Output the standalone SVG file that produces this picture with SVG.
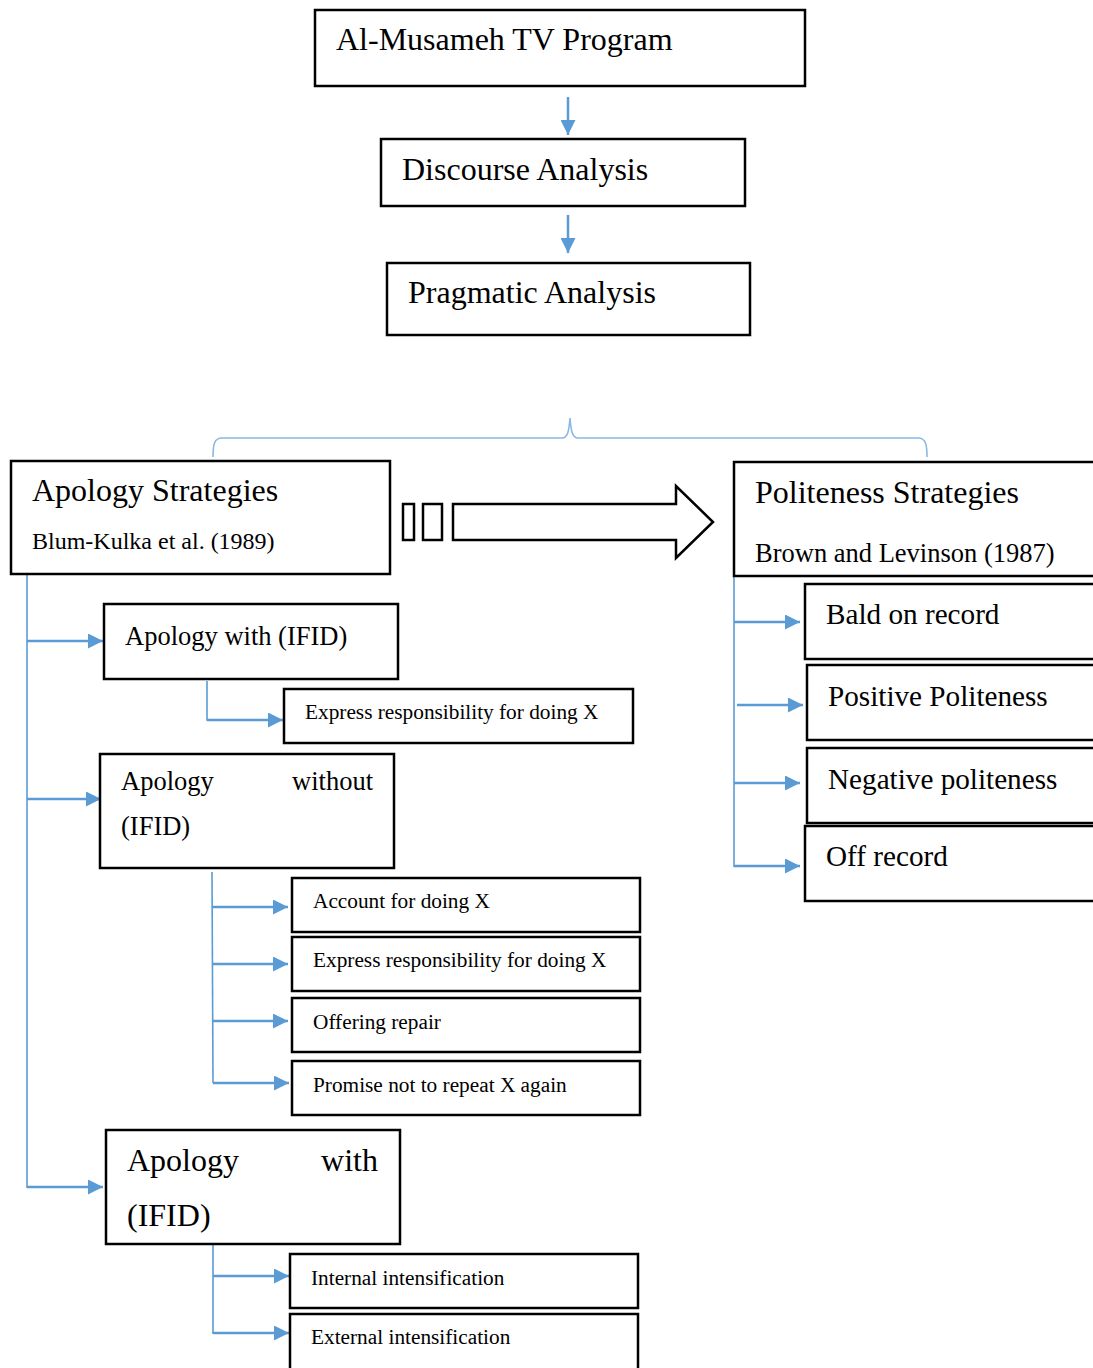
<svg xmlns="http://www.w3.org/2000/svg" width="1093" height="1368" viewBox="0 0 1093 1368">
<style>
.box{fill:#fff;stroke:#000;stroke-width:2.5}
.t{font-family:"Liberation Serif","Times New Roman",serif;fill:#000}
.t32{font-size:32px}.t29{font-size:29.2px}.t26{font-size:26.5px}.t24{font-size:24px}.t21{font-size:21.3px}
.ln{fill:none;stroke:#5B9BD5;stroke-width:1.6}
.ar{fill:none;stroke:#5B9BD5;stroke-width:2.5}
.br{fill:none;stroke:#8AB8E3;stroke-width:1.6}
</style>
<defs>
<marker id="ah" viewBox="0 0 10 10" refX="10" refY="5" markerWidth="15" markerHeight="15" markerUnits="userSpaceOnUse" orient="auto"><path d="M0,0 L10,5 L0,10 z" fill="#5B9BD5"/></marker>
</defs>
<rect width="1093" height="1368" fill="#fff"/>
<g id="connectors">
<line class="ar" x1="568" y1="97" x2="568" y2="135" marker-end="url(#ah)"/>
<line class="ar" x1="568" y1="215" x2="568" y2="253" marker-end="url(#ah)"/>
<path class="br" d="M213,457 C213,445 214,438 222,438 L562,438 C568,438 569,430 570,418 C571,430 572,438 578,438 L918,438 C926,438 927,445 927,457"/>
<line class="ln" x1="27" y1="575" x2="27" y2="1188"/>
<line class="ar" x1="27" y1="641" x2="103" y2="641" marker-end="url(#ah)"/>
<line class="ar" x1="27" y1="799" x2="101" y2="799" marker-end="url(#ah)"/>
<line class="ar" x1="27" y1="1187" x2="103" y2="1187" marker-end="url(#ah)"/>
<polyline class="ln" points="207,681 207,720 215,720"/>
<line class="ar" x1="207" y1="720" x2="283" y2="720" marker-end="url(#ah)"/>
<line class="ln" x1="212" y1="872" x2="213" y2="1083"/>
<line class="ar" x1="212" y1="907" x2="288" y2="907" marker-end="url(#ah)"/>
<line class="ar" x1="212" y1="964" x2="288" y2="964" marker-end="url(#ah)"/>
<line class="ar" x1="212" y1="1021" x2="288" y2="1021" marker-end="url(#ah)"/>
<line class="ar" x1="213" y1="1083" x2="289" y2="1083" marker-end="url(#ah)"/>
<line class="ln" x1="213" y1="1244" x2="213" y2="1334"/>
<line class="ar" x1="213" y1="1276" x2="289" y2="1276" marker-end="url(#ah)"/>
<line class="ar" x1="213" y1="1333" x2="289" y2="1333" marker-end="url(#ah)"/>
<line class="ln" x1="734" y1="576" x2="734" y2="867"/>
<line class="ar" x1="734" y1="622" x2="800" y2="622" marker-end="url(#ah)"/>
<line class="ar" x1="737" y1="705" x2="803" y2="705" marker-end="url(#ah)"/>
<line class="ar" x1="734" y1="783" x2="800" y2="783" marker-end="url(#ah)"/>
<line class="ar" x1="734" y1="866" x2="800" y2="866" marker-end="url(#ah)"/>
</g>
<g id="bigarrow">
<rect class="box" x="403" y="504" width="11" height="36"/>
<rect class="box" x="423" y="504" width="19" height="36"/>
<polygon class="box" points="453,504 676,504 676,486 713,522 676,558 676,540 453,540"/>
</g>
<g id="n-program"><rect class="box" x="315" y="10" width="490" height="76"/><text class="t t32" x="336" y="50">Al-Musameh TV Program</text></g>
<g id="n-discourse"><rect class="box" x="381" y="139" width="364" height="67"/><text class="t t32" x="402" y="180">Discourse Analysis</text></g>
<g id="n-pragmatic"><rect class="box" x="387" y="263" width="363" height="72"/><text class="t t32" x="408" y="303">Pragmatic Analysis</text></g>
<g id="n-apology"><rect class="box" x="11" y="461" width="379" height="113"/><text class="t t32" x="32" y="501">Apology Strategies</text><text class="t t24" x="32" y="549">Blum-Kulka et al. (1989)</text></g>
<g id="n-politeness"><rect class="box" x="734" y="462" width="380" height="114"/><text class="t t32" x="755" y="503">Politeness Strategies</text><text class="t t26" x="755" y="562">Brown and Levinson (1987)</text></g>
<g id="n-bald"><rect class="box" x="805" y="584" width="310" height="75"/><text class="t t29" x="826" y="624">Bald on record</text></g>
<g id="n-positive"><rect class="box" x="807" y="665" width="310" height="75"/><text class="t t29" x="828" y="706">Positive Politeness</text></g>
<g id="n-negative"><rect class="box" x="807" y="748" width="310" height="75"/><text class="t t29" x="828" y="789">Negative politeness</text></g>
<g id="n-off"><rect class="box" x="805" y="826" width="310" height="75"/><text class="t t29" x="826" y="866">Off record</text></g>
<g id="n-with1"><rect class="box" x="104" y="604" width="294" height="75"/><text class="t t26" x="125" y="645">Apology with (IFID)</text></g>
<g id="n-express1"><rect class="box" x="284" y="689" width="349" height="54"/><text class="t t21" x="305" y="719">Express responsibility for doing X</text></g>
<g id="n-without"><rect class="box" x="100" y="754" width="294" height="114"/><text class="t t26" x="121" y="790">Apology</text><text class="t t26" x="373" y="790" text-anchor="end">without</text><text class="t t26" x="121" y="835">(IFID)</text></g>
<g id="n-account"><rect class="box" x="292" y="878" width="348" height="54"/><text class="t t21" x="313" y="908">Account for doing X</text></g>
<g id="n-express2"><rect class="box" x="292" y="937" width="348" height="54"/><text class="t t21" x="313" y="967">Express responsibility for doing X</text></g>
<g id="n-repair"><rect class="box" x="292" y="998" width="348" height="54"/><text class="t t21" x="313" y="1029">Offering repair</text></g>
<g id="n-promise"><rect class="box" x="292" y="1061" width="348" height="54"/><text class="t t21" x="313" y="1092">Promise not to repeat X again</text></g>
<g id="n-with2"><rect class="box" x="106" y="1130" width="294" height="114"/><text class="t t32" x="127" y="1171">Apology</text><text class="t t32" x="378" y="1171" text-anchor="end">with</text><text class="t t32" x="127" y="1226">(IFID)</text></g>
<g id="n-internal"><rect class="box" x="290" y="1254" width="348" height="54"/><text class="t t21" x="311" y="1285">Internal intensification</text></g>
<g id="n-external"><rect class="box" x="290" y="1314" width="348" height="60"/><text class="t t21" x="311" y="1344">External intensification</text></g>
</svg>
